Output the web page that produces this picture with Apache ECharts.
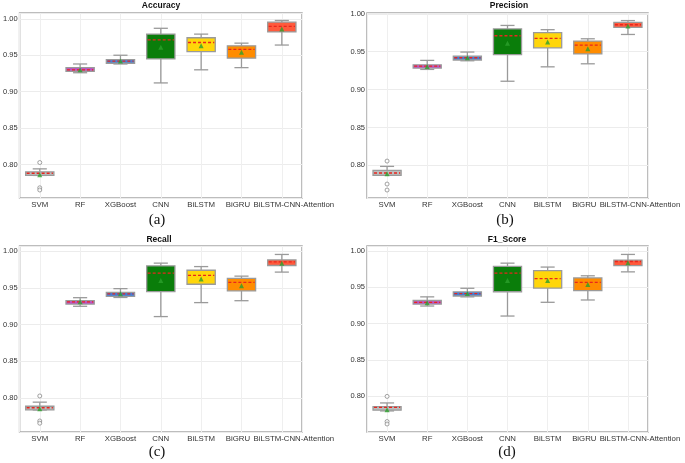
<!DOCTYPE html>
<html>
<head>
<meta charset="utf-8">
<script src="https://cdn.jsdelivr.net/npm/echarts@6/dist/echarts.min.js"></script>
<style>
  html, body { margin: 0; padding: 0; background: #fff; }
  #main { width: 685px; height: 463px; }
</style>
</head>
<body>
<div id="main"></div>
<script>
var models = ['SVM', 'RF', 'XGBoost', 'CNN', 'BiLSTM', 'BiGRU', 'BiLSTM-CNN-Attention'];
var boxColors = ['#bdbdbd', '#c04cc8', '#3f80dc', '#0a7d0a', '#ffd60a', '#ff8c00', '#ff5a3c'];

// Accuracy
var accLow  = [0.785, 0.926, 0.938, 0.912, 0.930, 0.933, 0.964];
var accQ1   = [0.785, 0.928, 0.939, 0.945, 0.955, 0.946, 0.982];
var accMed  = [0.788, 0.930, 0.942, 0.971, 0.9675, 0.958, 0.9895];
var accQ3   = [0.790, 0.933, 0.944, 0.979, 0.974, 0.963, 0.9954];
var accHigh = [0.794, 0.938, 0.950, 0.987, 0.979, 0.9666, 0.9977];
var accMean = [0.786, 0.930, 0.942, 0.961, 0.963, 0.954, 0.986];
var accOut  = [0.8027, 0.768, 0.765];

// Precision
var preLow  = [0.787, 0.9266, 0.938, 0.911, 0.930, 0.934, 0.9727];
var preQ1   = [0.7868, 0.9284, 0.939, 0.946, 0.955, 0.947, 0.982];
var preMed  = [0.790, 0.931, 0.942, 0.971, 0.9675, 0.9587, 0.9855];
var preQ3   = [0.7934, 0.9327, 0.944, 0.980, 0.975, 0.964, 0.9886];
var preHigh = [0.7987, 0.9385, 0.9495, 0.9846, 0.979, 0.967, 0.991];
var preMean = [0.789, 0.9305, 0.942, 0.961, 0.9626, 0.954, 0.9837];
var preOut  = [0.8057, 0.7754, 0.7675];

// Recall
var recLow  = [0.784, 0.925, 0.937, 0.911, 0.930, 0.9326, 0.9715];
var recQ1   = [0.784, 0.928, 0.9385, 0.945, 0.955, 0.946, 0.9805];
var recMed  = [0.787, 0.931, 0.942, 0.970, 0.967, 0.9575, 0.9855];
var recQ3   = [0.789, 0.9326, 0.944, 0.980, 0.974, 0.963, 0.988];
var recHigh = [0.7946, 0.9367, 0.949, 0.9837, 0.979, 0.966, 0.9955];
var recMean = [0.7855, 0.931, 0.942, 0.960, 0.962, 0.953, 0.9837];
var recOut  = [0.803, 0.769, 0.766];

// F1_Score
var f1Low  = [0.780, 0.9244, 0.937, 0.9106, 0.9295, 0.9327, 0.9714];
var f1Q1   = [0.781, 0.927, 0.9382, 0.944, 0.949, 0.9456, 0.980];
var f1Med  = [0.785, 0.9295, 0.9415, 0.9696, 0.962, 0.957, 0.9857];
var f1Q3   = [0.786, 0.932, 0.9438, 0.979, 0.973, 0.963, 0.9876];
var f1High = [0.791, 0.937, 0.9488, 0.9834, 0.978, 0.966, 0.9954];
var f1Mean = [0.7816, 0.929, 0.9415, 0.9594, 0.9594, 0.954, 0.9839];
var f1Out  = [0.800, 0.7654, 0.762];

var panels = [
    {title: 'Accuracy',  tag: '(a)', low: accLow, q1: accQ1, med: accMed, q3: accQ3, high: accHigh, mean: accMean, out: accOut,
     grid: {left: 17, top: 13, width: 285, height: 185}, yMin: 0.754, yMax: 1.008, titleXY: [161, 6], tagXY: [157, 220]},
    {title: 'Precision', tag: '(b)', low: preLow, q1: preQ1, med: preMed, q3: preQ3, high: preHigh, mean: preMean, out: preOut,
     grid: {left: 367, top: 13, width: 281, height: 185}, yMin: 0.757, yMax: 1.001, titleXY: [509, 6], tagXY: [505, 220]},
    {title: 'Recall',    tag: '(c)', low: recLow, q1: recQ1, med: recMed, q3: recQ3, high: recHigh, mean: recMean, out: recOut,
     grid: {left: 17, top: 246, width: 285, height: 186}, yMin: 0.754, yMax: 1.007, titleXY: [159, 240], tagXY: [157, 452]},
    {title: 'F1_Score',  tag: '(d)', low: f1Low, q1: f1Q1, med: f1Med, q3: f1Q3, high: f1High, mean: f1Mean, out: f1Out,
     grid: {left: 367, top: 246, width: 281, height: 186}, yMin: 0.751, yMax: 1.007, titleXY: [507, 240], tagXY: [507, 452]}
];

function renderBox(params, api) {
    var x = api.value(0);
    var low = api.coord([x, api.value(1)]);
    var q1 = api.coord([x, api.value(2)]);
    var med = api.coord([x, api.value(3)]);
    var q3 = api.coord([x, api.value(4)]);
    var high = api.coord([x, api.value(5)]);
    var w = api.size([0.7, 0])[0];
    var cx = low[0];
    var grey = '#9a9a9a';
    var lw = 1.3;
    return {
        type: 'group',
        children: [
            {type: 'line', shape: {x1: cx, y1: low[1], x2: cx, y2: q1[1]}, style: {stroke: grey, lineWidth: lw}},
            {type: 'line', shape: {x1: cx, y1: q3[1], x2: cx, y2: high[1]}, style: {stroke: grey, lineWidth: lw}},
            {type: 'line', shape: {x1: cx - w / 4, y1: low[1], x2: cx + w / 4, y2: low[1]}, style: {stroke: grey, lineWidth: lw}},
            {type: 'line', shape: {x1: cx - w / 4, y1: high[1], x2: cx + w / 4, y2: high[1]}, style: {stroke: grey, lineWidth: lw}},
            {type: 'rect', shape: {x: cx - w / 2, y: q3[1], width: w, height: Math.max(q1[1] - q3[1], 1)},
             style: {fill: boxColors[params.dataIndex], stroke: grey, lineWidth: lw}},
            {type: 'line', shape: {x1: cx - w / 2 + 1, y1: med[1], x2: cx + w / 2 - 1, y2: med[1]},
             style: {stroke: '#e8261e', lineWidth: 1.3, lineDash: [3, 2]}}
        ]
    };
}

var option = {
    animation: false,
    backgroundColor: '#fff',
    grid: [],
    xAxis: [],
    yAxis: [],
    series: [],
    graphic: []
};

var labelFont = {fontSize: 7.8, color: '#333', fontFamily: 'Liberation Sans'};

panels.forEach(function (p, k) {
    option.grid.push({
        left: p.grid.left, top: p.grid.top, width: p.grid.width, height: p.grid.height,
        show: true, borderColor: '#a8a8a8', borderWidth: 1.5, backgroundColor: '#fff'
    });
    option.xAxis.push({
        type: 'value', gridIndex: k, min: -0.5, max: 6.5, splitNumber: 7,
        axisLine: {show: false}, axisTick: {show: false},
        splitLine: {show: true, lineStyle: {color: '#efefef', width: 1}},
        axisLabel: {
            margin: 3, fontSize: 7.8, color: '#333', fontFamily: 'Liberation Sans',
            formatter: function (v) {
                if (Math.abs(v - Math.round(v)) > 1e-6) return '';
                var i = Math.round(v);
                if (i === 6) return '{last|' + models[i] + '}';
                if (i === 5) return '{prev|' + models[i] + '}';
                return models[i] || '';
            },
            rich: {
                last: Object.assign({padding: [0, 0, 0, 24]}, labelFont),
                prev: Object.assign({padding: [0, 7, 0, 0]}, labelFont)
            }
        }
    });
    option.yAxis.push({
        type: 'value', gridIndex: k, min: p.yMin, max: p.yMax, splitNumber: 5,
        axisLine: {show: false}, axisTick: {show: false},
        splitLine: {show: true, lineStyle: {color: '#ececec', width: 1}},
        axisLabel: {
            margin: 2, fontSize: 7.5, color: '#333', fontFamily: 'Liberation Sans',
            formatter: function (v) {
                var r = Math.round(v * 20) / 20;
                if (Math.abs(v - r) > 1e-6 || r < 0.79) return '';
                return r.toFixed(2);
            }
        }
    });
    var boxData = models.map(function (m, i) {
        return [i, p.low[i], p.q1[i], p.med[i], p.q3[i], p.high[i]];
    });
    option.series.push({
        type: 'custom', xAxisIndex: k, yAxisIndex: k,
        renderItem: renderBox,
        encode: {x: 0, y: [1, 2, 3, 4, 5]},
        data: boxData, z: 2
    });
    option.series.push({
        type: 'scatter', xAxisIndex: k, yAxisIndex: k,
        symbol: 'triangle', symbolSize: 5,
        itemStyle: {color: '#2ca02c'},
        data: p.mean.map(function (v, i) { return [i, v]; }), z: 4
    });
    option.series.push({
        type: 'scatter', xAxisIndex: k, yAxisIndex: k,
        symbol: 'circle', symbolSize: 4,
        itemStyle: {color: '#fff', borderColor: '#8a8a8a', borderWidth: 1},
        data: p.out.map(function (v) { return [0, v]; }), z: 4
    });
    option.graphic.push({
        type: 'text', x: p.titleXY[0], y: p.titleXY[1],
        style: {text: p.title, font: 'bold 8.5px "Liberation Sans"', fill: '#111',
                textAlign: 'center', textVerticalAlign: 'middle'}
    });
    option.graphic.push({
        type: 'text', x: p.tagXY[0], y: p.tagXY[1],
        style: {text: p.tag, font: '15px "Liberation Serif"', fill: '#111',
                textAlign: 'center', textVerticalAlign: 'middle'}
    });
});

var chart = echarts.init(document.getElementById('main'));
chart.setOption(option);
</script>
</body>
</html>
